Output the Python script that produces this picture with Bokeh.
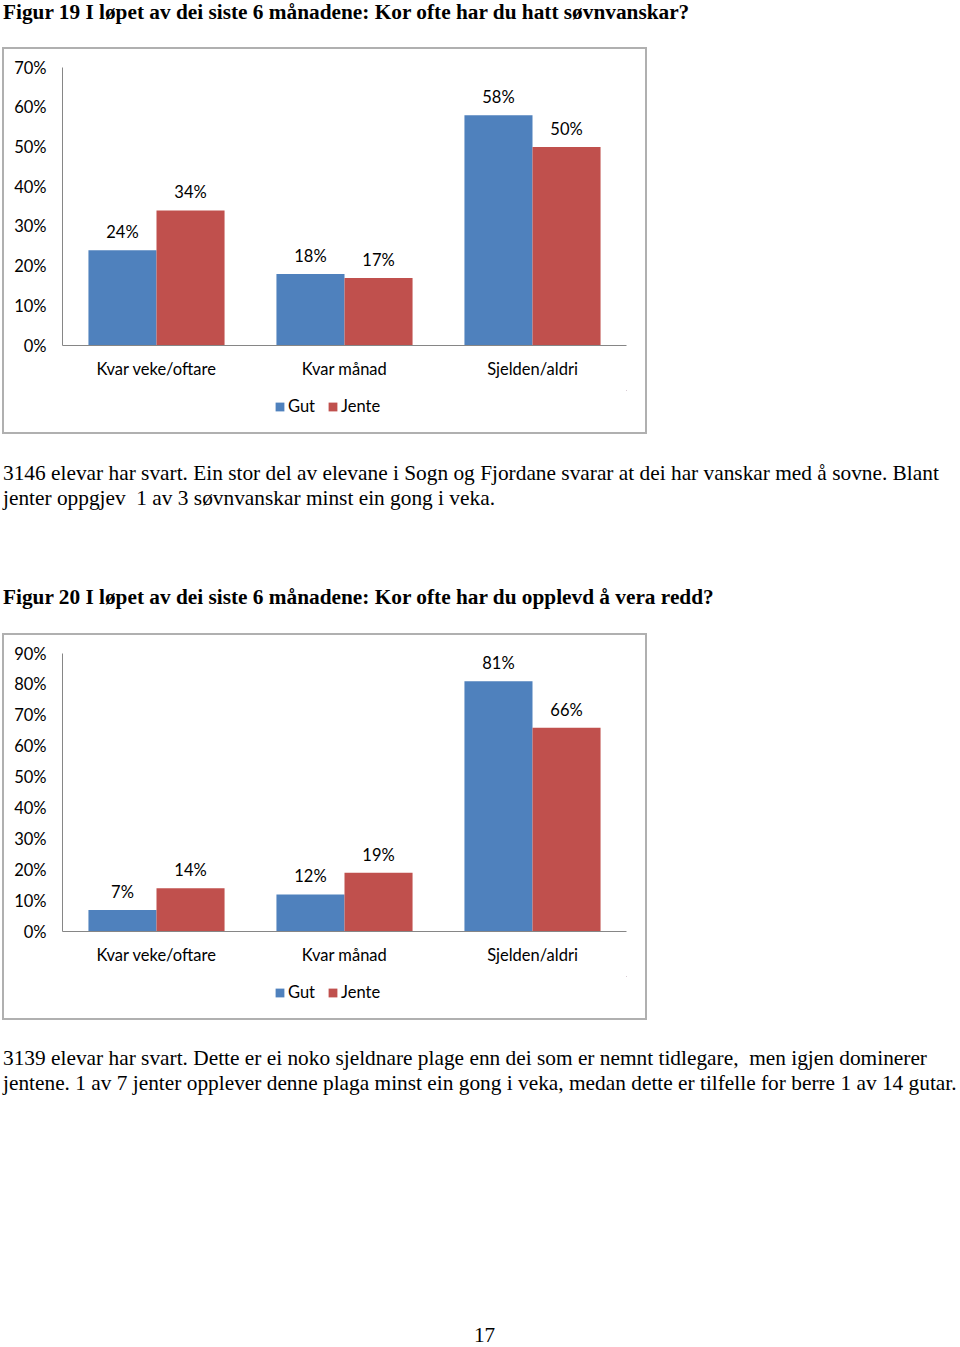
from bokeh.plotting import figure
from bokeh.models import (FactorRange, ColumnDataSource, LabelSet, Legend, LegendItem,
                          Div, PrintfTickFormatter, FixedTicker, Range1d)
from bokeh.transform import dodge
from bokeh.layouts import column
from bokeh.core.properties import value
from bokeh.embed import file_html
from bokeh.resources import INLINE

# ---------------- data ----------------
categories = ["Kvar veke/oftare", "Kvar månad", "Sjelden/aldri"]
series = ["Gut", "Jente"]

fig19_gut = [24, 18, 58]
fig19_jente = [34, 17, 50]
fig19_ticks = [0, 10, 20, 30, 40, 50, 60, 70]

fig20_gut = [7, 12, 81]
fig20_jente = [14, 19, 66]
fig20_ticks = [0, 10, 20, 30, 40, 50, 60, 70, 80, 90]

title19 = "Figur 19 I løpet av dei siste 6 månadene: Kor ofte har du hatt søvnvanskar?"
text19 = ["3146 elevar har svart. Ein stor del av elevane i Sogn og Fjordane svarar at dei har vanskar med å sovne. Blant",
          "jenter oppgjev&nbsp; 1 av 3 søvnvanskar minst ein gong i veka."]
title20 = "Figur 20 I løpet av dei siste 6 månadene: Kor ofte har du opplevd å vera redd?"
text20 = ["3139 elevar har svart. Dette er ei noko sjeldnare plage enn dei som er nemnt tidlegare,&nbsp; men igjen dominerer",
          "jentene. 1 av 7 jenter opplever denne plaga minst ein gong i veka, medan dette er tilfelle for berre 1 av 14 gutar."]
page_no = "17"

BLUE = "#4F81BD"
RED = "#C0504D"
AXIS = "#868686"
BORDER = "2px solid #b0b0b0"
FONT = "Lato"
FSIZE = "16.5px"
SERIF = "'Liberation Serif', 'Times New Roman', serif"
COLORS = [BLUE, RED]


def make_chart(gut, jente, ticks):
    src = ColumnDataSource(dict(
        cat=categories, gut=gut, jente=jente,
        gut_lbl=[f"{v}%" for v in gut], jente_lbl=[f"{v}%" for v in jente]))
    p = figure(x_range=FactorRange(*categories, range_padding=0),
               y_range=Range1d(ticks[0], ticks[-1]),
               width=645, height=343,
               min_border_left=58, min_border_right=23, min_border_top=18, min_border_bottom=47,
               output_backend="svg", toolbar_location=None, tools="")
    p.margin = (0, 0, 0, 2)
    p.styles = {"border": BORDER, "border-bottom": "none"}
    p.outline_line_color = None
    p.xgrid.grid_line_color = None
    p.ygrid.grid_line_color = None
    bw = 0.362
    p.vbar(x=dodge("cat", -bw / 2, range=p.x_range), top="gut", width=bw, source=src,
           fill_color=BLUE, line_color=None)
    p.vbar(x=dodge("cat", bw / 2, range=p.x_range), top="jente", width=bw, source=src,
           fill_color=RED, line_color=None)
    for col, off in (("gut", -bw / 2), ("jente", bw / 2)):
        p.add_layout(LabelSet(x=dodge("cat", off, range=p.x_range), y=col, text=col + "_lbl",
                              source=src, y_offset=18, text_align="center", text_baseline="middle",
                              text_font=value(FONT), text_font_size=FSIZE, text_color="#000000"))
    for ax in (p.xaxis, p.yaxis):
        ax.axis_line_color = AXIS
        ax.axis_line_width = 1
        ax.major_tick_line_color = None
        ax.minor_tick_line_color = None
        ax.major_tick_out = 0
        ax.major_tick_in = 0
        ax.major_label_text_font = FONT
        ax.major_label_text_font_size = FSIZE
        ax.major_label_text_color = "#000000"
    p.xaxis.major_label_standoff = 13
    p.yaxis.major_label_standoff = 16
    p.yaxis.ticker = FixedTicker(ticks=ticks)
    p.yaxis.formatter = PrintfTickFormatter(format="%d%%")

    # legend strip (bottom part of the chart box); its renderers use the chart's data
    # but lie outside this strip's visible ranges, so only the legend shows
    lg = figure(width=645, height=44, x_axis_type=None, y_axis_type=None,
                x_range=Range1d(-2, -1), y_range=Range1d(-2, -1),
                min_border=0, output_backend="svg", toolbar_location=None, tools="")
    lg.margin = (0, 0, 0, 2)
    lg.styles = {"border": BORDER, "border-top": "none"}
    lg.outline_line_color = None
    lg.xgrid.grid_line_color = None
    lg.ygrid.grid_line_color = None
    items = []
    for name, color, col in zip(series, COLORS, ["gut", "jente"]):
        r = lg.vbar(x=col, top=col, width=1, source=src, fill_color=color, line_color=None)
        items.append(LegendItem(label=name, renderers=[r]))
    legend = Legend(items=items, orientation="horizontal", location=(212, 18),
                    glyph_width=11, glyph_height=11, label_standoff=3, spacing=12,
                    padding=0, margin=0, border_line_color=None, background_fill_alpha=0,
                    label_text_font=FONT, label_text_font_size=FSIZE, label_text_color="#000000")
    lg.add_layout(legend)
    return column(p, lg, spacing=0, margin=0)


def text_block(lines, top, bold=False):
    weight = "bold" if bold else "normal"
    size = "21.3px" if bold else "21.35px"
    inner = "<br>".join(lines)
    return (f'<div style="position:absolute;left:3px;top:{top}px;white-space:nowrap;'
            f'font-family:{SERIF};font-size:{size};font-weight:{weight};line-height:25px;color:#000;">'
            f'{inner}</div>')


def block(html, height):
    return Div(text=f'<div style="position:relative;width:955px;height:{height}px;">{html}</div>',
               width=955, height=height, margin=0, styles={"overflow": "visible"})


divA = block(text_block([title19], 0, bold=True), 47)
chart1 = make_chart(fig19_gut, fig19_jente, fig19_ticks)
divB = block(text_block(text19, 27) + text_block([title20], 151, bold=True), 199)
chart2 = make_chart(fig20_gut, fig20_jente, fig20_ticks)
pn = (f'<div style="position:absolute;left:474px;top:307px;font-family:{SERIF};font-size:21.2px;'
      f'line-height:16px;color:#000;">{page_no}</div>')
divC = block(text_block(text20, 26) + pn, 327)

layout = column(divA, chart1, divB, chart2, divC, spacing=0, margin=0)

open("out.html", "w").write(file_html(layout, INLINE))
